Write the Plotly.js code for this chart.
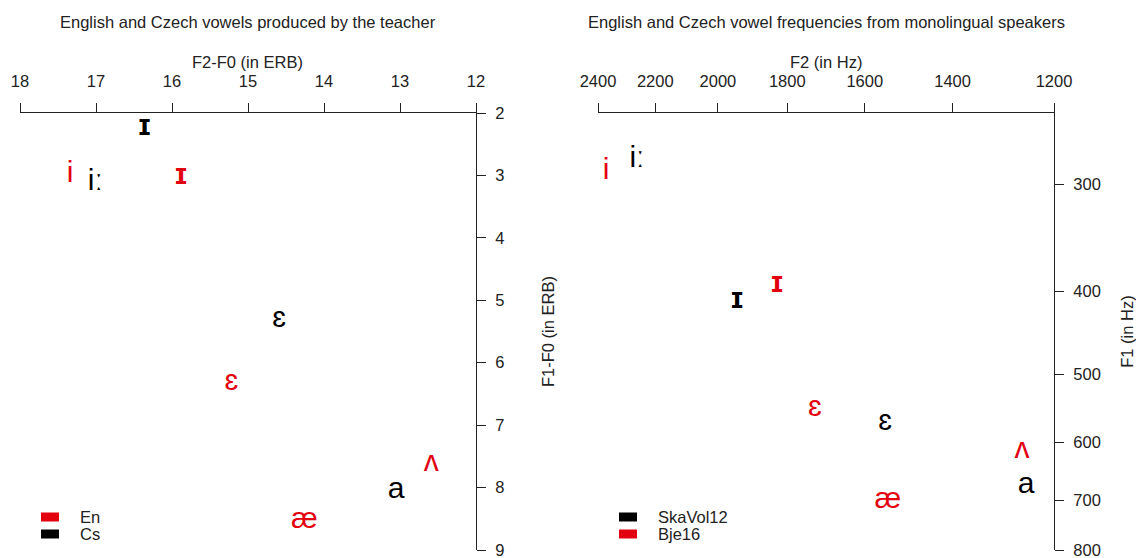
<!DOCTYPE html>
<html>
<head>
<meta charset="utf-8">
<script src="https://cdn.plot.ly/plotly-3.0.1.min.js"></script>
<style>
  html, body { margin: 0; padding: 0; background: #ffffff; }
  #chart { width: 1136px; height: 558px; }
</style>
</head>
<body>
<div id="chart"></div>
<script>
// ---------- Left panel: teacher (ERB) ----------
const teacherEnVowels = ["i", "ɪ", "ɛ", "æ", "ʌ"];
const teacherEnF2 = [17.34, 15.88, 15.22, 14.26, 12.59];
const teacherEnF1 = [2.98, 3.01, 6.31, 8.52, 7.61];

const teacherCsVowels = ["iː", "ɪ", "ɛ", "a"];
const teacherCsF2 = [17.01, 16.36, 14.59, 13.05];
const teacherCsF1 = [3.11, 2.24, 5.30, 8.05];

const erbXTicks = [18, 17, 16, 15, 14, 13, 12];
const erbYTicks = [2, 3, 4, 5, 6, 7, 8, 9];

// ---------- Right panel: monolingual speakers (Hz) ----------
const bjeVowels = ["i", "ɪ", "ɛ", "æ", "ʌ"];
const bjeF2 = [2371, 1828, 1726, 1545, 1260];
const bjeF1 = [290, 393, 547, 700, 612];

const skaVowels = ["iː", "ɪ", "ɛ", "a"];
const skaF2 = [2262, 1943, 1551, 1252];
const skaF1 = [281, 410, 569, 673];

const hzXTicks = [2400, 2200, 2000, 1800, 1600, 1400, 1200];
const hzYTicks = [300, 400, 500, 600, 700, 800];

const leftLegendLabels = ["En", "Cs"];
const rightLegendLabels = ["SkaVol12", "Bje16"];

const titles = [
  "English and Czech vowels produced by the teacher",
  "English and Czech vowel frequencies from monolingual speakers"
];
const xTitles = ["F2-F0 (in ERB)", "F2 (in Hz)"];

// ---------- Styles ----------
const RED = "#e3000f";
const BLACK = "#000000";
const INK = "#222222";
const FONT = "Liberation Sans, Arial, DejaVu Sans, sans-serif";
const VOWEL_SIZE = 30;
const TXT = 16.5;
const W = 1136, H = 558;

function vowelTrace(x, y, labels, color, xa, ya) {
  return {
    type: "scatter", mode: "text",
    x: x, y: y, text: labels,
    textposition: "middle center",
    textfont: {
      family: FONT,
      weight: labels.map(l => l === "ɪ" ? 700 : 400),
      size: VOWEL_SIZE, color: color
    },
    xaxis: xa, yaxis: ya,
    hoverinfo: "skip", showlegend: false, cliponaxis: false
  };
}

const data = [
  vowelTrace(teacherEnF2, teacherEnF1, teacherEnVowels, RED, "x", "y"),
  vowelTrace(teacherCsF2, teacherCsF1, teacherCsVowels, BLACK, "x", "y"),
  vowelTrace(skaF2, skaF1, skaVowels, BLACK, "x2", "y2"),
  vowelTrace(bjeF2, bjeF1, bjeVowels, RED, "x2", "y2")
];

// plot-area geometry (px)
const L1 = 20, R1 = 476, L2 = 598, R2 = 1054, TOP = 113, BOT = 550;
const px = v => v / W;
const py = v => 1 - v / H;

const commonAxis = {
  showline: true, linecolor: INK, linewidth: 1,
  ticks: "outside", ticklen: 9, tickcolor: INK, tickwidth: 1,
  showgrid: false, zeroline: false, automargin: false,
  ticklabeloverflow: "allow",
  tickfont: { family: FONT, size: TXT, color: INK },
  fixedrange: true
};

const layout = {
  width: W, height: H,
  margin: { l: 0, r: 0, t: 0, b: 0, pad: 0 },
  paper_bgcolor: "#ffffff", plot_bgcolor: "#ffffff",
  font: { family: FONT, color: INK },
  showlegend: false,
  xaxis: Object.assign({}, commonAxis, {
    domain: [px(L1), px(R1)], anchor: "y", side: "top",
    range: [18, 12],
    tickvals: erbXTicks, ticktext: erbXTicks.map(String),
    ticklabelstandoff: 9
  }),
  yaxis: Object.assign({}, commonAxis, {
    domain: [py(BOT), py(TOP)], anchor: "x", side: "right",
    range: [9, 2],
    tickvals: erbYTicks, ticktext: erbYTicks.map(String),
    ticklabelstandoff: 6,
    title: { text: "F1-F0 (in ERB)", font: { family: FONT, size: TXT, color: INK }, standoff: 38 }
  }),
  xaxis2: Object.assign({}, commonAxis, {
    domain: [px(L2), px(R2)], anchor: "y2", side: "top",
    type: "log",
    range: [Math.log10(2400), Math.log10(1200)],
    tickvals: hzXTicks, ticktext: hzXTicks.map(String),
    ticklabelstandoff: 9
  }),
  yaxis2: Object.assign({}, commonAxis, {
    domain: [py(BOT), py(TOP)], anchor: "x2", side: "right",
    type: "log",
    range: [Math.log10(800), Math.log10(248)],
    tickvals: hzYTicks, ticktext: hzYTicks.map(String),
    ticklabelstandoff: 6,
    title: { text: "F1 (in Hz)", font: { family: FONT, size: TXT, color: INK }, standoff: 22 }
  }),
  annotations: [],
  shapes: []
};

// subplot titles and top-axis titles
[[L1, R1], [L2, R2]].forEach((d, i) => {
  layout.annotations.push({
    xref: "paper", yref: "paper",
    x: px((d[0] + d[1]) / 2), y: py(22),
    xanchor: "center", yanchor: "middle",
    text: titles[i], showarrow: false,
    font: { family: FONT, size: TXT, color: INK }
  });
  layout.annotations.push({
    xref: "paper", yref: "paper",
    x: px((d[0] + d[1]) / 2), y: py(62),
    xanchor: "center", yanchor: "middle",
    text: xTitles[i], showarrow: false,
    font: { family: FONT, size: TXT, color: INK }
  });
});

// legends (drawn as keys + labels)
function addLegend(plotLeft, labels, colors) {
  const rows = [517, 534];
  labels.forEach((lab, i) => {
    layout.shapes.push({
      type: "rect", xref: "paper", yref: "paper",
      x0: px(plotLeft + 21), x1: px(plotLeft + 39),
      y0: py(rows[i] + 4.5), y1: py(rows[i] - 4.5),
      fillcolor: colors[i], line: { width: 0 }
    });
    layout.annotations.push({
      xref: "paper", yref: "paper",
      x: px(plotLeft + 58), y: py(rows[i]),
      xanchor: "left", yanchor: "middle",
      text: lab, showarrow: false,
      font: { family: FONT, size: TXT, color: INK }
    });
  });
}
addLegend(L1, leftLegendLabels, [RED, BLACK]);
addLegend(L2, rightLegendLabels, [BLACK, RED]);

Plotly.newPlot("chart", data, layout, { displayModeBar: false, staticPlot: true });
</script>
</body>
</html>
